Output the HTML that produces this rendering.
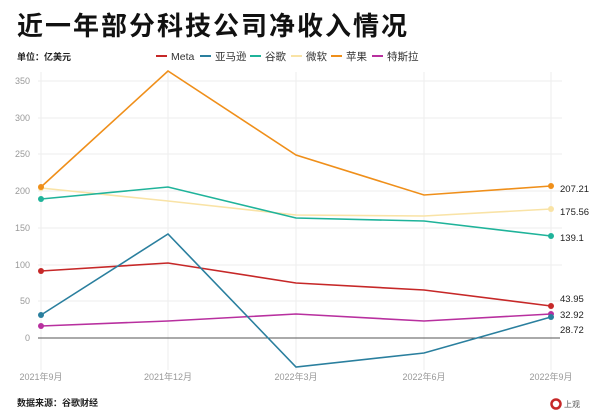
<!DOCTYPE html><html><head><meta charset="utf-8"><style>
body{margin:0;background:#fff;width:600px;height:416px;overflow:hidden}
svg{display:block;font-family:"Liberation Sans","Noto Sans CJK SC",sans-serif}
</style></head><body>
<svg width="600" height="416" viewBox="0 0 600 416">
<text x="17" y="35" font-size="26" font-weight="bold" fill="#111" font-family="'Noto Sans CJK SC',sans-serif" letter-spacing="2">近一年部分科技公司净收入情况</text>
<text x="17" y="60" font-size="9" font-weight="bold" fill="#222" font-family="'Noto Sans CJK SC',sans-serif">单位：亿美元</text>
<g font-size="10.5" fill="#333" font-family="'Liberation Sans','Noto Sans CJK SC',sans-serif">
<line x1="156" y1="56" x2="167" y2="56" stroke="#c62828" stroke-width="2"/><text x="171" y="60">Meta</text>
<line x1="200" y1="56" x2="211" y2="56" stroke="#2a7f9e" stroke-width="2"/><text x="215" y="60">亚马逊</text>
<line x1="250" y1="56" x2="261" y2="56" stroke="#1fb39a" stroke-width="2"/><text x="265" y="60">谷歌</text>
<line x1="291" y1="56" x2="302" y2="56" stroke="#f9e3a6" stroke-width="2"/><text x="306" y="60">微软</text>
<line x1="331" y1="56" x2="342" y2="56" stroke="#ef8f1a" stroke-width="2"/><text x="346" y="60">苹果</text>
<line x1="372" y1="56" x2="383" y2="56" stroke="#b8309f" stroke-width="2"/><text x="387" y="60">特斯拉</text>
</g>
<g stroke="#eee" stroke-width="1">
<line x1="38" y1="81" x2="562" y2="81"/><line x1="38" y1="118" x2="562" y2="118"/><line x1="38" y1="154" x2="562" y2="154"/><line x1="38" y1="191" x2="562" y2="191"/><line x1="38" y1="228" x2="562" y2="228"/><line x1="38" y1="265" x2="562" y2="265"/><line x1="38" y1="301" x2="562" y2="301"/>
<line x1="41" y1="72" x2="41" y2="370"/><line x1="168" y1="72" x2="168" y2="370"/><line x1="296" y1="72" x2="296" y2="370"/><line x1="424" y1="72" x2="424" y2="370"/><line x1="551" y1="72" x2="551" y2="370"/>
</g>
<line x1="38" y1="338" x2="560" y2="338" stroke="#555" stroke-width="1"/>
<g font-size="9" fill="#999" text-anchor="end">
<text x="30" y="84">350</text><text x="30" y="121">300</text><text x="30" y="157">250</text><text x="30" y="194">200</text><text x="30" y="231">150</text><text x="30" y="268">100</text><text x="30" y="304">50</text><text x="30" y="341">0</text>
</g>
<g font-size="9" fill="#999" text-anchor="middle" font-family="'Liberation Sans','Noto Sans CJK SC',sans-serif">
<text x="41" y="380">2021年9月</text><text x="168" y="380">2021年12月</text><text x="296" y="380">2022年3月</text><text x="424" y="380">2022年6月</text><text x="551" y="380">2022年9月</text>
</g>
<g fill="none" stroke-width="1.6">
<polyline stroke="#f9e3a6" points="41,188 168,201 296,215 424,216 551,209"/>
<polyline stroke="#b8309f" points="41,326 168,321 296,314 424,321 551,314"/>
<polyline stroke="#c62828" points="41,271 168,263 296,283 424,290 551,306"/>
<polyline stroke="#2a7f9e" points="41,315 168,234 296,367 424,353 551,317"/>
<polyline stroke="#1fb39a" points="41,199 168,187 296,218 424,221 551,236"/>
<polyline stroke="#ef8f1a" points="41,187 168,71 296,155 424,195 551,186"/>
</g>
<circle cx="41" cy="188" r="3" fill="#f9e3a6"/><circle cx="551" cy="209" r="3" fill="#f9e3a6"/>
<circle cx="41" cy="326" r="3" fill="#b8309f"/><circle cx="551" cy="314" r="3" fill="#b8309f"/>
<circle cx="41" cy="271" r="3" fill="#c62828"/><circle cx="551" cy="306" r="3" fill="#c62828"/>
<circle cx="41" cy="315" r="3" fill="#2a7f9e"/><circle cx="551" cy="317" r="3" fill="#2a7f9e"/>
<circle cx="41" cy="199" r="3" fill="#1fb39a"/><circle cx="551" cy="236" r="3" fill="#1fb39a"/>
<circle cx="41" cy="187" r="3" fill="#ef8f1a"/><circle cx="551" cy="186" r="3" fill="#ef8f1a"/>
<g font-size="9.5" fill="#222">
<text x="560" y="192">207.21</text><text x="560" y="215">175.56</text><text x="560" y="241">139.1</text>
<text x="560" y="302">43.95</text><text x="560" y="318">32.92</text><text x="560" y="333">28.72</text>
</g>
<text x="17" y="406" font-size="9" font-weight="bold" fill="#222" font-family="'Noto Sans CJK SC',sans-serif">数据来源：谷歌财经</text>
<circle cx="556" cy="404" r="4.5" fill="none" stroke="#c62828" stroke-width="2.5"/>
<text x="564" y="407" font-size="8" fill="#555" font-family="'Noto Sans CJK SC',sans-serif">上观</text>
</svg>
</body></html>
